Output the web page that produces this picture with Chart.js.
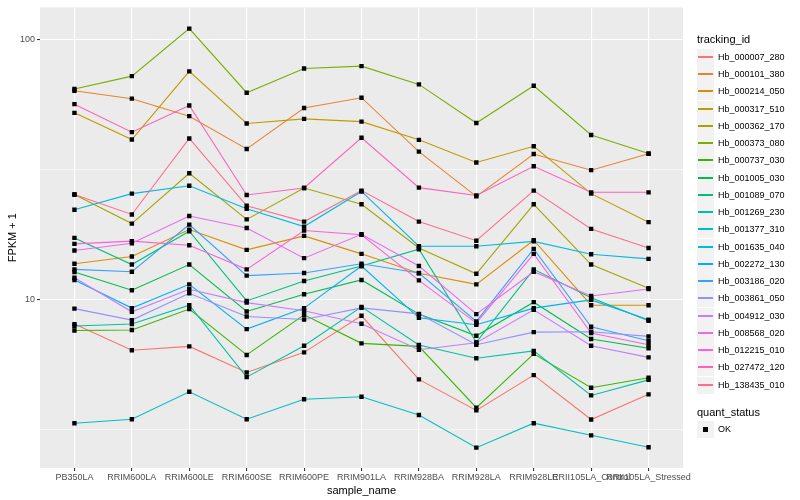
<!DOCTYPE html>
<html>
<head>
<meta charset="utf-8">
<script src="https://cdn.jsdelivr.net/npm/chart.js@4/dist/chart.umd.min.js"></script>
<style>
  body { margin: 0; background: #fff; font-family: "Liberation Sans", Arial, sans-serif; }
  #marco { position: relative; width: 800px; height: 500px; }
  #leyenda { position: absolute; left: 0; top: 0; width: 800px; height: 500px; pointer-events: none; }
  .titulo { position: absolute; left: 697px; font-size: 11px; color: #000; line-height: 12px; }
  .clave { position: absolute; left: 697px; width: 17px; height: 17px; background: #F2F2F2; }
  .clave span { position: absolute; display: block; left: 1px; width: 15px; top: 7px; height: 2px; }
  .clave b { position: absolute; left: 6px; top: 6px; width: 5px; height: 5px; background: #000; }
  .texto { position: absolute; left: 718px; font-size: 9px; color: #000; line-height: 10px; }
</style>
</head>
<body>
<div id="marco">
  <canvas id="grafica" width="800" height="500"></canvas>
  <div id="leyenda"></div>
</div>
<script>
const muestras = ["PB350LA","RRIM600LA","RRIM600LE","RRIM600SE","RRIM600PE","RRIM901LA","RRIM928BA","RRIM928LA","RRIM928LE","RRII105LA_Control","RRII105LA_Stressed"];
const genes = ["Hb_000007_280","Hb_000101_380","Hb_000214_050","Hb_000317_510","Hb_000362_170","Hb_000373_080","Hb_000737_030","Hb_001005_030","Hb_001089_070","Hb_001269_230","Hb_001377_310","Hb_001635_040","Hb_002272_130","Hb_003186_020","Hb_003861_050","Hb_004912_030","Hb_008568_020","Hb_012215_010","Hb_027472_120","Hb_138435_010"];
const colores = ["#F8766D","#EA8331","#D89000","#C09B00","#A3A500","#7CAE00","#39B600","#00BB4E","#00BF7D","#00C1A3","#00BFC4","#00BAE0","#00B0F6","#35A2FF","#9590FF","#C77CFF","#E76BF3","#FA62DB","#FF62BC","#FF6C90"];
const ticksY = [10, 100];
const menoresY = [3.1623, 31.623];

// FPKM + 1 por muestra
const hb000007 = [8.02, 6.36, 6.58, 5.22, 6.24, 8.63, 4.91, 3.73, 5.10, 3.44, 4.30];
const hb000101 = [63.5, 59.2, 50.7, 37.9, 54.5, 59.7, 37.0, 24.9, 36.25, 31.4, 36.3];
const hb000214 = [13.69, 14.61, 18.54, 15.49, 17.53, 14.95, 12.58, 11.41, 16.87, 9.48, 9.48];
const hb000317 = [52.2, 41.2, 75.4, 47.5, 49.5, 48.3, 41.1, 33.6, 38.8, 25.5, 19.8];
const hb000362 = [25.3, 19.55, 30.55, 20.3, 26.8, 23.2, 15.75, 12.53, 23.2, 13.6, 11.02];
const hb000373 = [64.5, 72.3, 110.2, 62.4, 77.4, 79.0, 67.2, 47.7, 66.4, 42.9, 36.4];
const hb000737 = [7.58, 7.61, 9.16, 6.10, 8.71, 6.76, 6.58, 3.82, 6.16, 4.56, 4.98];
const hb001005 = [12.72, 10.83, 13.6, 8.97, 10.45, 11.86, 8.76, 7.23, 9.74, 7.03, 6.47];
const hb001089 = [17.22, 13.6, 18.27, 9.85, 11.75, 13.42, 15.58, 6.82, 13.03, 10.12, 8.26];
const hb001269 = [7.88, 8.02, 9.48, 5.01, 6.62, 9.34, 6.66, 5.92, 6.32, 4.26, 4.89];
const hb001377 = [3.33, 3.45, 4.40, 3.45, 4.12, 4.21, 3.58, 2.68, 3.33, 2.99, 2.69];
const hb001635 = [22.1, 25.5, 27.35, 22.3, 19.04, 26.0, 16.0, 16.0, 16.7, 14.9, 14.3];
const hb002272 = [11.86, 9.24, 11.41, 7.67, 9.24, 13.42, 8.48, 7.97, 9.24, 9.94, 8.33];
const hb003186 = [13.03, 12.76, 19.38, 12.32, 12.61, 13.69, 12.61, 8.21, 15.63, 7.83, 6.92];
const hb003861 = [9.20, 8.31, 10.54, 8.58, 8.35, 9.26, 8.78, 6.68, 7.47, 7.49, 7.19];
const hb004912 = [12.10, 8.94, 10.92, 9.70, 9.02, 8.04, 6.39, 6.8, 9.10, 6.62, 5.97];
const hb008568 = [15.40, 16.43, 20.91, 18.80, 14.39, 17.79, 13.42, 8.76, 12.76, 10.29, 10.95];
const hb012215 = [16.33, 16.73, 16.14, 13.03, 18.38, 17.71, 11.82, 8.09, 14.95, 7.41, 6.68];
const hb027472 = [56.4, 44.0, 55.7, 25.2, 26.8, 41.85, 26.9, 25.1, 32.5, 25.8, 25.8];
const hb138435 = [25.3, 21.2, 41.6, 22.9, 19.9, 26.2, 19.9, 16.8, 26.2, 18.65, 15.75];

const series = [hb000007, hb000101, hb000214, hb000317, hb000362, hb000373, hb000737, hb001005, hb001089, hb001269,
                hb001377, hb001635, hb002272, hb003186, hb003861, hb004912, hb008568, hb012215, hb027472, hb138435];

const puntos = valores => valores.map((v, i) => ({ x: i, y: v }));

const lineas = series.map((valores, i) => ({
  label: genes[i],
  data: puntos(valores),
  borderColor: colores[i],
  backgroundColor: colores[i],
  borderWidth: 1.1,
  pointRadius: 0,
  tension: 0,
  order: 100 - i
}));
const marcas = series.map((valores, i) => ({
  label: genes[i] + " OK",
  data: puntos(valores),
  showLine: false,
  pointStyle: 'rect',
  pointRadius: 3.1,
  pointBackgroundColor: "#000",
  pointBorderWidth: 0,
  order: 0
}));

const fondoPanel = {
  id: 'fondoPanel',
  beforeDraw(chart) {
    const { ctx, chartArea: a } = chart;
    ctx.save();
    ctx.fillStyle = "#EBEBEB";
    ctx.fillRect(a.left, a.top, a.right - a.left, a.bottom - a.top);
    ctx.restore();
  }
};

const esMayor = v => ticksY.some(t => Math.abs(t - v) < 1e-6);

new Chart(document.getElementById("grafica"), {
  type: 'line',
  data: { datasets: lineas.concat(marcas) },
  options: {
    responsive: false,
    animation: false,
    layout: { padding: { left: 0, right: 117, top: 5, bottom: 0 } },
    scales: {
      x: {
        type: 'linear',
        min: -0.6,
        max: 10.6,
        afterBuildTicks: s => { s.ticks = muestras.map((m, i) => ({ value: i })); },
        afterFit: s => { s.height = 32; },
        ticks: {
          callback: v => muestras[v],
          autoSkip: false,
          maxRotation: 0,
          minRotation: 0,
          padding: 1,
          color: "#4D4D4D",
          font: { family: "Liberation Sans", size: 9 }
        },
        grid: { color: "#FFFFFF", lineWidth: 1.1, tickColor: "#333333", tickLength: 3 },
        border: { display: false },
        title: { display: true, text: "sample_name", color: "#000", padding: { top: 0, bottom: 2 },
                 font: { family: "Liberation Sans", size: 11 } }
      },
      y: {
        type: 'logarithmic',
        min: 2.238,
        max: 133,
        afterBuildTicks: s => { s.ticks = menoresY.concat(ticksY).sort((a, b) => a - b).map(v => ({ value: v })); },
        afterFit: s => { s.width = 40; },
        ticks: {
          callback: v => esMayor(v) ? String(v) : "",
          padding: 2,
          color: "#4D4D4D",
          font: { family: "Liberation Sans", size: 9 }
        },
        grid: {
          color: "#FFFFFF",
          lineWidth: c => esMayor(c.tick.value) ? 1.1 : 0.55,
          tickColor: c => esMayor(c.tick.value) ? "#333333" : "rgba(0,0,0,0)",
          tickLength: 3
        },
        border: { display: false },
        title: { display: true, text: "FPKM + 1", color: "#000", padding: { top: 6, bottom: 2 },
                 font: { family: "Liberation Sans", size: 11 } }
      }
    },
    plugins: {
      legend: { display: false },
      tooltip: { enabled: false }
    }
  },
  plugins: [fondoPanel]
});

// leyenda al estilo ggplot
const leyenda = document.getElementById("leyenda");
let html = '<div class="titulo" style="top:33px">tracking_id</div>';
genes.forEach((g, i) => {
  const arriba = Math.round(57.3 + i * 17.25 - 8.5);
  html += '<div class="clave" style="top:' + arriba + 'px"><span style="background-color:' + colores[i] + '"></span></div>';
  html += '<div class="texto" style="top:' + (arriba + 3) + 'px">' + g + '</div>';
});
html += '<div class="titulo" style="top:406px">quant_status</div>';
html += '<div class="clave" style="top:421px"><b></b></div>';
html += '<div class="texto" style="top:424px">OK</div>';
leyenda.innerHTML = html;
</script>
</body>
</html>
